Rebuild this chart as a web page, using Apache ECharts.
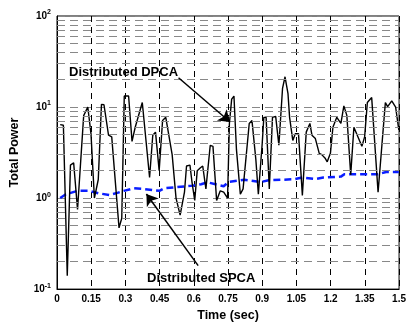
<!DOCTYPE html>
<html>
<head>
<meta charset="utf-8">
<script src="https://cdn.jsdelivr.net/npm/echarts@6/dist/echarts.min.js"></script>
<style>
  html, body { margin: 0; padding: 0; background: #fff; }
  #chart { width: 409px; height: 327px; }
</style>
</head>
<body>
<div id="chart"></div>
<script>
// Distributed DPCA (black) - time in sec, total power
const dpcaTime = [
  0.014, 0.028, 0.045, 0.059, 0.073, 0.090, 0.117, 0.135, 0.149, 0.164,
  0.181, 0.195, 0.206, 0.226, 0.240, 0.272, 0.284, 0.295, 0.314, 0.329,
  0.343, 0.374, 0.406, 0.420, 0.432, 0.448, 0.463, 0.477, 0.505, 0.522,
  0.540, 0.559, 0.568, 0.583, 0.592, 0.604, 0.615, 0.629, 0.639, 0.653,
  0.672, 0.684, 0.700, 0.716, 0.731, 0.748, 0.756, 0.766, 0.776, 0.787,
  0.804, 0.816, 0.843, 0.855, 0.872, 0.883, 0.900, 0.907, 0.917, 0.931,
  0.945, 0.959, 0.973, 0.989, 1.000, 1.013, 1.020, 1.034, 1.045, 1.059,
  1.076, 1.093, 1.109, 1.118, 1.133, 1.150, 1.161, 1.175, 1.185, 1.199,
  1.210, 1.227, 1.245, 1.258, 1.271, 1.288, 1.302, 1.337, 1.349, 1.361,
  1.380, 1.408, 1.440, 1.450, 1.468, 1.485, 1.499
]
const dpcaPower = [
  6.4, 6.3, 0.14, 2.3, 2.44, 0.75, 8.05, 10, 5.1, 1.0,
  1.6, 10.7, 10.6, 4.9, 4.7, 0.47, 0.6, 13.2, 13.2, 4.2,
  6.0, 11.2, 1.68, 4.9, 5.3, 2.0, 7.1, 7.7, 3.0, 1.0,
  0.65, 1.16, 2.25, 2.3, 1.5, 0.94, 2.0, 2.15, 2.25, 1.26,
  3.8, 3.7, 0.94, 1.2, 1.16, 1.0, 6.6, 12.2, 13.2, 3.4,
  1.1, 1.26, 6.6, 7.1, 2.65, 1.1, 4.0, 7.7, 7.7, 1.26,
  7.7, 7.9, 3.8, 16, 21.5, 14, 7.7, 4.3, 5.1, 5.1,
  1.07, 5.3, 6.6, 4.9, 4.5, 3.1, 3.0, 2.76, 2.5, 3.1,
  6.0, 7.7, 6.6, 10.3, 8.1, 1.8, 6.0, 3.7, 4.7, 11.2,
  12.7, 1.16, 11.2, 10.1, 11.7, 10.0, 5.6
]

// Distributed SPCA (blue dashed)
const spcaTime = [
  0.014, 0.039, 0.089, 0.138, 0.181, 0.230, 0.265, 0.293, 0.336, 0.378,
  0.449, 0.470, 0.597, 0.632, 0.660, 0.731, 0.752, 0.822, 0.893, 0.928,
  1.041, 1.076, 1.133, 1.168, 1.245, 1.260, 1.408, 1.443, 1.499
]
const spcaPower = [
  1.0, 1.1, 1.2, 1.2, 1.13, 1.08, 1.14, 1.2, 1.28, 1.26,
  1.2, 1.28, 1.37, 1.42, 1.49, 1.35, 1.5, 1.59, 1.5, 1.57,
  1.61, 1.68, 1.62, 1.68, 1.72, 1.83, 1.83, 1.93, 1.93
]

// minor log grid levels
const minorLevels = [
  0.2, 0.3, 0.4, 0.5, 0.6, 0.7, 0.8, 0.9,
  2, 3, 4, 5, 6, 7, 8, 9,
  20, 30, 40, 50, 60, 70, 80, 90
]

// annotation arrows [time, power] start -> end
const dpcaArrow = [[0.533, 21.0], [0.759, 6.85]]
const spcaArrow = [[0.619, 0.181], [0.392, 1.11]]

const font = "'Liberation Sans', Arial, sans-serif"
const chart = echarts.init(document.getElementById("chart"))

chart.setOption({
  animation: false,
  backgroundColor: "#fff",
  grid: {
    left: 49,
    right: 5,
    top: 16,
    bottom: 32,
    show: true,
    borderColor: "#000",
    borderWidth: 1,
  },
  xAxis: {
    type: "value",
    min: 0,
    max: 1.5,
    interval: 0.15,
    name: "Time (sec)",
    nameLocation: "middle",
    nameGap: 19,
    nameTextStyle: { fontFamily: font, fontWeight: "bold", fontSize: 12.5, color: "#000" },
    axisLine: { lineStyle: { color: "#000", width: 1 } },
    axisTick: { show: false },
    axisLabel: {
      fontFamily: font,
      fontWeight: "bold",
      fontSize: 10,
      color: "#000",
      margin: 5,
      showMaxLabel: true,
      alignMaxLabel: "center",
      formatter: (v) => String(Math.round(v * 100) / 100),
    },
    splitLine: { show: true, lineStyle: { color: "#000", width: 1, type: [6, 5] } },
  },
  yAxis: {
    type: "log",
    logBase: 10,
    min: 0.1,
    max: 100,
    name: "Total Power",
    nameLocation: "middle",
    nameGap: 36,
    nameTextStyle: { fontFamily: font, fontWeight: "bold", fontSize: 12.5, color: "#000" },
    axisLine: { lineStyle: { color: "#000", width: 1 } },
    axisTick: { show: false },
    axisLabel: {
      margin: 6,
      formatter: (v) => {
        const e = Math.round(Math.log10(v))
        return "{b|10}{s|" + e + "}"
      },
      rich: {
        b: { fontFamily: font, fontWeight: "bold", fontSize: 10, color: "#000" },
        s: { fontFamily: font, fontWeight: "bold", fontSize: 7, color: "#000", padding: [0, 0, 7, 0] },
      },
    },
    splitLine: { show: true, lineStyle: { color: "#888", width: 1, type: [8, 5] } },
  },
  graphic: [
    {
      type: "text",
      left: 69,
      top: 66,
      z: 10,
      style: { text: "Distributed DPCA", font: "bold 13px " + font, fill: "#000" },
    },
    {
      type: "text",
      left: 147,
      top: 272,
      z: 10,
      style: { text: "Distributed SPCA", font: "bold 13px " + font, fill: "#000" },
    },
  ],
  series: [
    {
      name: "grid",
      type: "line",
      data: [],
      silent: true,
      z: 1,
      markLine: {
        silent: true,
        symbol: "none",
        label: { show: false },
        lineStyle: { color: "#888", width: 1, type: [8, 5] },
        data: minorLevels.map((v) => ({ yAxis: v })),
      },
    },
    {
      name: "Distributed SPCA",
      type: "line",
      data: spcaTime.map((t, i) => [t, spcaPower[i]]),
      showSymbol: false,
      z: 3,
      lineStyle: { color: "#0a1eff", width: 2.5, type: [7, 4] },
    },
    {
      name: "Distributed DPCA",
      type: "line",
      data: dpcaTime.map((t, i) => [t, dpcaPower[i]]),
      showSymbol: false,
      z: 4,
      lineStyle: { color: "#000", width: 1.4 },
    },
    {
      name: "arrows",
      type: "line",
      data: [],
      silent: true,
      z: 6,
      markLine: {
        silent: true,
        symbol: ["none", "arrow"],
        symbolSize: 11,
        label: { show: false },
        itemStyle: { color: "#000" },
        lineStyle: { color: "#000", width: 1.5, type: "solid" },
        data: [
          [{ coord: dpcaArrow[0] }, { coord: dpcaArrow[1] }],
          [{ coord: spcaArrow[0] }, { coord: spcaArrow[1] }],
        ],
      },
    },
  ],
})
</script>
</body>
</html>
